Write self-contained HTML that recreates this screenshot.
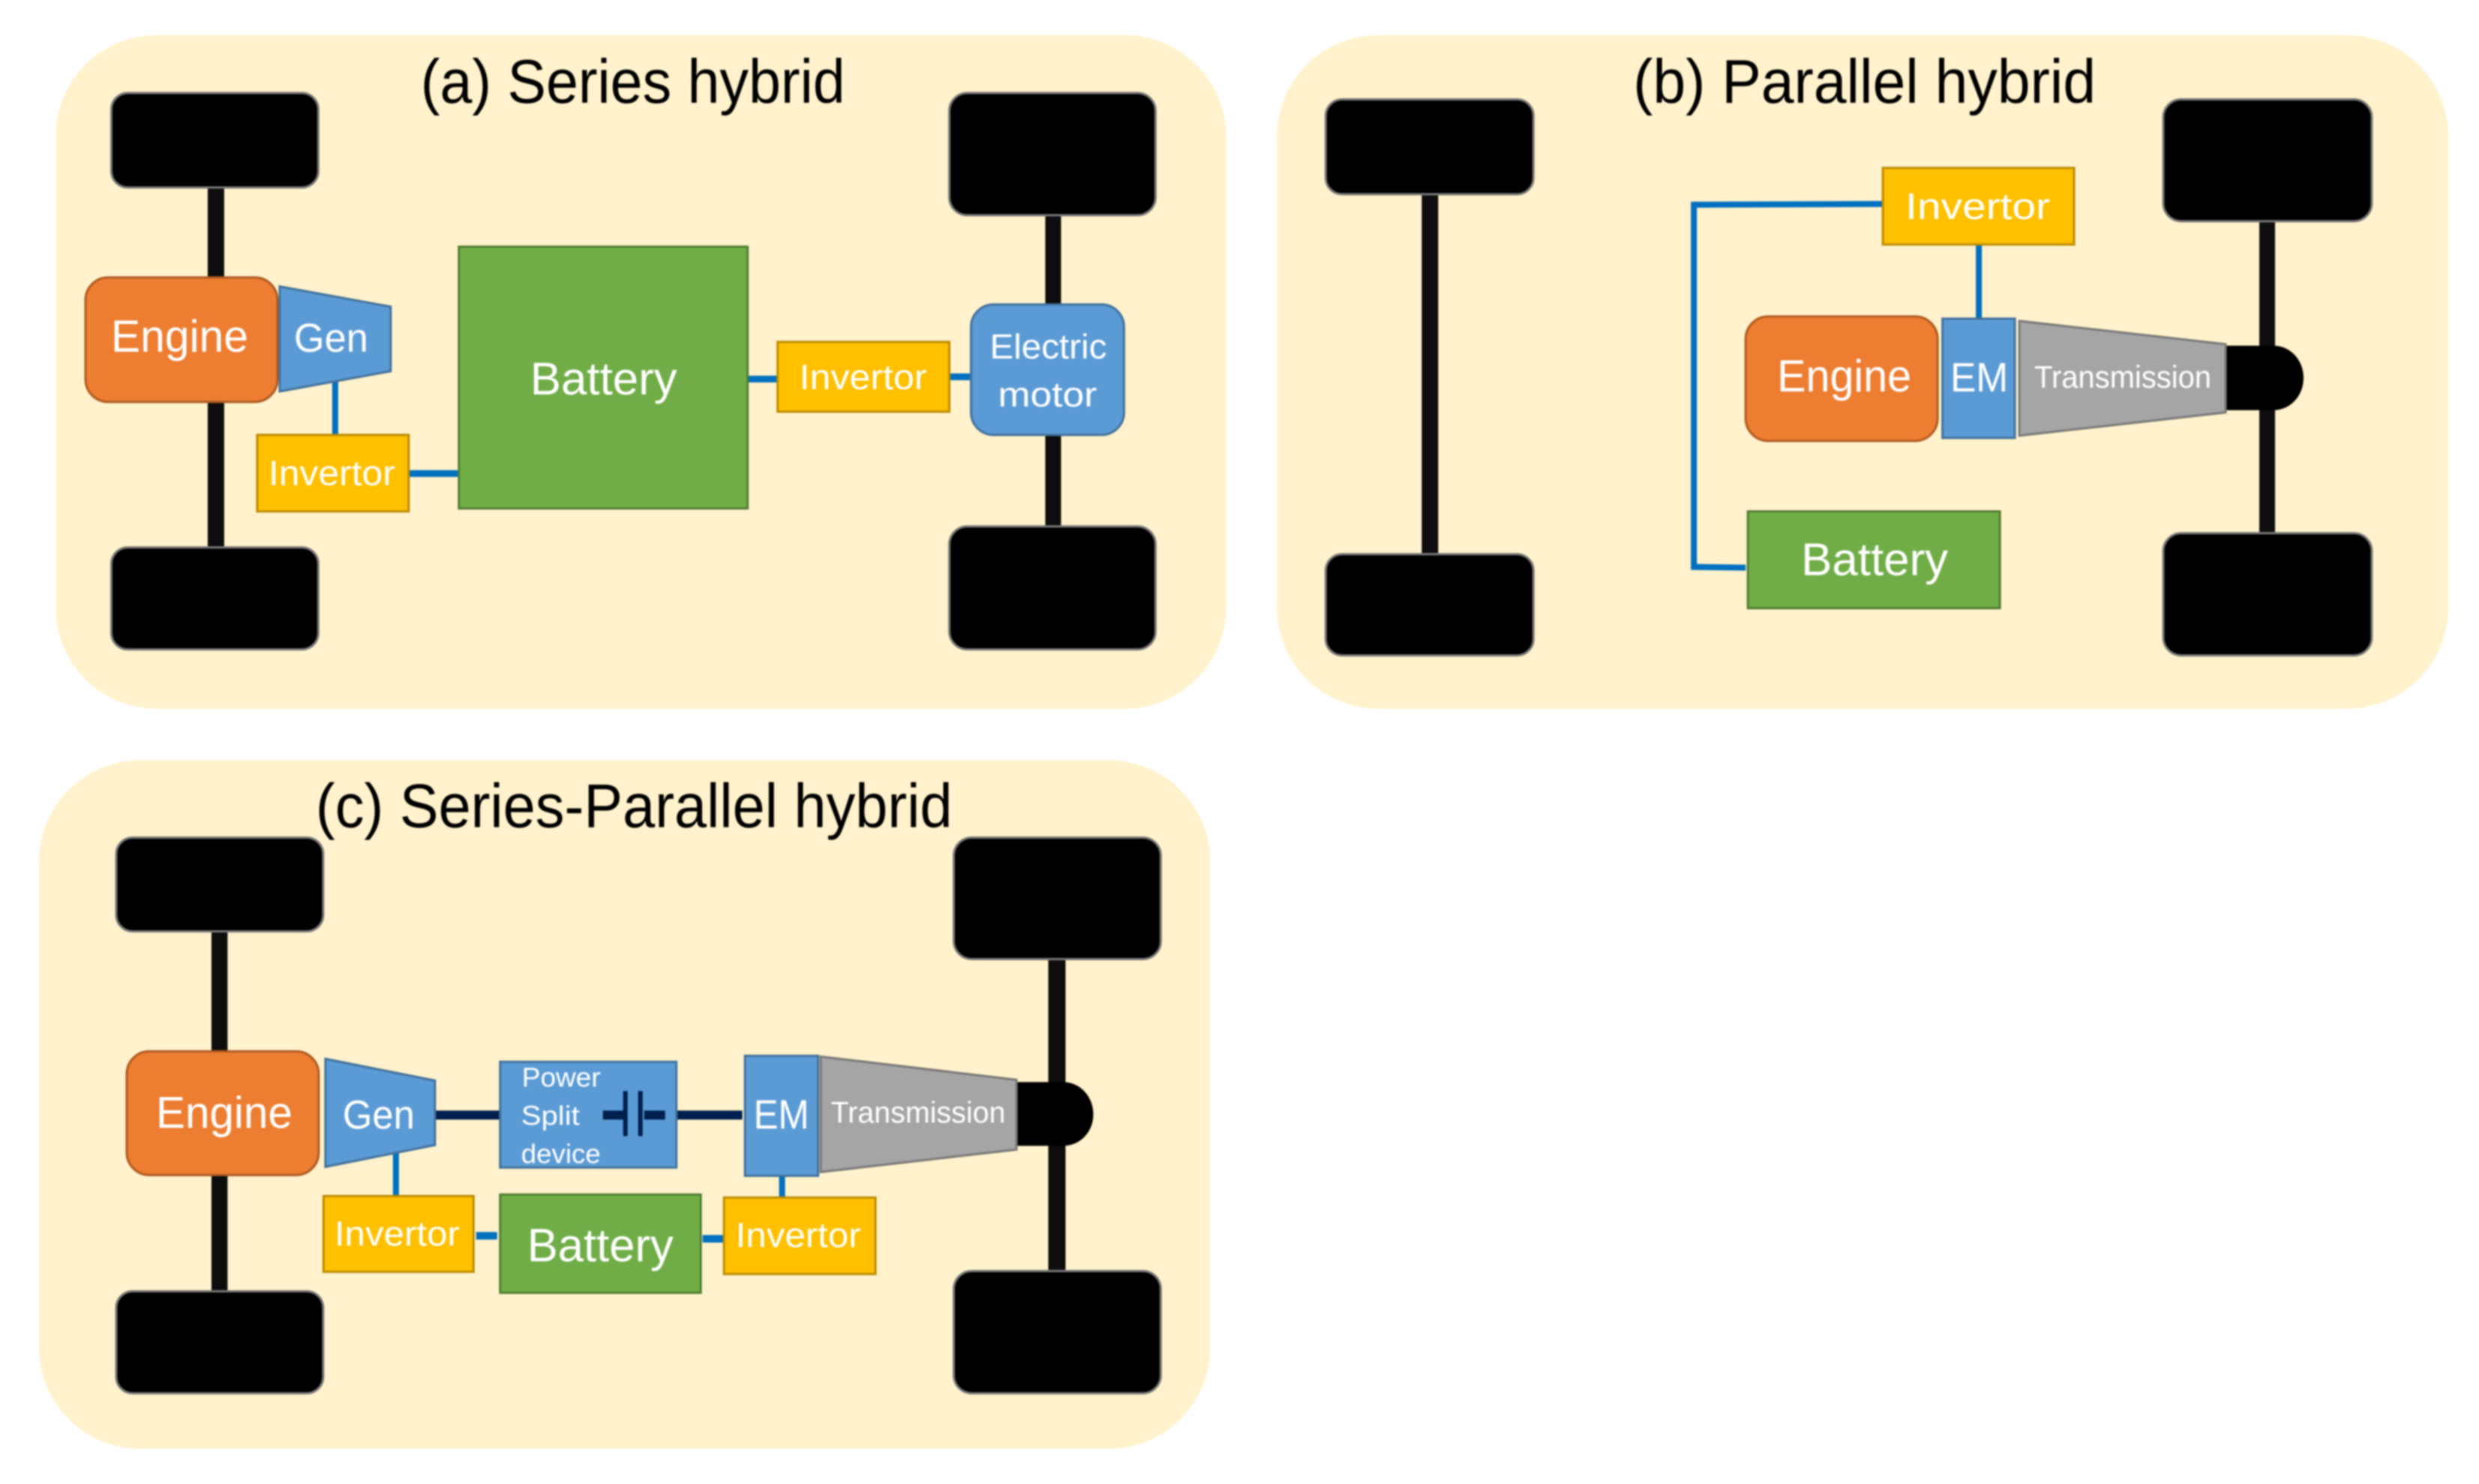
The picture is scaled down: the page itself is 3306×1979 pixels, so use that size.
<!DOCTYPE html>
<html><head><meta charset="utf-8"><style>
html,body{margin:0;padding:0;background:#fff}
svg{display:block;filter:blur(1px)}
text{font-family:"Liberation Sans",sans-serif;fill:#fff}
.t{fill:#000;font-size:83px}
.w{fill:#000;stroke:#777;stroke-width:3}
.p{fill:#FFF2CC}
.ax{fill:#0D0D0D}
.or{fill:#ED7D31;stroke:#AE5A21;stroke-width:3}
.bl{fill:#5B9BD5;stroke:#41719C;stroke-width:3}
.ye{fill:#FFC000;stroke:#BC8C00;stroke-width:3}
.gr{fill:#70AD47;stroke:#507E32;stroke-width:3}
.tr{fill:#A5A5A5;stroke:#787878;stroke-width:3}
.ln{fill:#0070C0}
.dk{fill:#001F4E}
</style></head><body>
<svg xmlns="http://www.w3.org/2000/svg" width="3306" height="1979" viewBox="0 0 3306 1979">
<rect width="3306" height="1979" fill="#fff"/>

<!-- Panel a -->
<rect class="p" x="74" y="47" width="1561" height="898" rx="135" ry="135"/>
<text class="t" x="561" y="137" textLength="566" lengthAdjust="spacingAndGlyphs">(a) Series hybrid</text>
<rect class="ax" x="277" y="250" width="22" height="480"/>
<rect class="ax" x="1394" y="287" width="21" height="415"/>
<rect class="w" x="148.5" y="124" width="276" height="126" rx="22"/>
<rect class="w" x="1266" y="124" width="275" height="163" rx="24"/>
<rect class="w" x="148.5" y="730" width="276" height="136" rx="22"/>
<rect class="w" x="1266" y="702" width="275" height="164" rx="24"/>
<rect class="ln" x="443" y="506" width="8" height="74"/>
<rect class="ln" x="545" y="627" width="67" height="9"/>
<rect class="ln" x="997" y="501" width="40" height="9"/>
<rect class="ln" x="1266" y="498" width="29" height="9"/>
<rect class="or" x="114" y="370" width="256" height="166" rx="30"/>
<polygon class="bl" points="373,382 521,409 521,495 373,522"/>
<rect class="ye" x="343" y="580" width="202" height="102"/>
<rect class="gr" x="612" y="329" width="385" height="349"/>
<rect class="ye" x="1037" y="456" width="229" height="93"/>
<rect class="bl" x="1295" y="406" width="204" height="174" rx="30"/>
<text x="148" y="469" font-size="60" textLength="183" lengthAdjust="spacingAndGlyphs">Engine</text>
<text x="392" y="469" font-size="54" textLength="99" lengthAdjust="spacingAndGlyphs">Gen</text>
<text x="707" y="526" font-size="61" textLength="196" lengthAdjust="spacingAndGlyphs">Battery</text>
<text x="358" y="647" font-size="47" textLength="169" lengthAdjust="spacingAndGlyphs">Invertor</text>
<text x="1066" y="519" font-size="47" textLength="170" lengthAdjust="spacingAndGlyphs">Invertor</text>
<text x="1320" y="478" font-size="46" textLength="156" lengthAdjust="spacingAndGlyphs">Electric</text>
<text x="1331" y="542" font-size="46" textLength="132" lengthAdjust="spacingAndGlyphs">motor</text>

<!-- Panel b -->
<rect class="p" x="1703" y="47" width="1562" height="898" rx="135" ry="135"/>
<text class="t" x="2178" y="137" textLength="617" lengthAdjust="spacingAndGlyphs">(b) Parallel hybrid</text>
<rect class="ax" x="1896" y="259" width="22" height="480"/>
<rect class="ax" x="3013" y="295" width="21" height="416"/>
<rect class="w" x="1768" y="132.5" width="277" height="126.5" rx="22"/>
<rect class="w" x="2885" y="132.5" width="278" height="162.5" rx="24"/>
<rect class="w" x="1768" y="739" width="277" height="135" rx="22"/>
<rect class="w" x="2885" y="711" width="278" height="163" rx="24"/>
<polyline points="2511,272 2259,273 2259,756 2328,757" fill="none" stroke="#0070C0" stroke-width="8"/>
<rect class="ln" x="2635" y="326" width="8" height="99"/>
<path d="M2968 461H3032C3054 461 3072 480 3072 504S3054 547 3032 547H2968Z" fill="#000"/>
<rect class="or" x="2328" y="422" width="256" height="166" rx="30"/>
<rect class="bl" x="2590.5" y="425" width="96.5" height="159"/>
<polygon class="tr" points="2693,428 2968,459 2968,550 2693,581"/>
<rect class="ye" x="2511" y="224" width="255" height="102"/>
<rect class="gr" x="2331" y="682" width="336" height="129"/>
<text x="2541" y="292" font-size="49" textLength="193" lengthAdjust="spacingAndGlyphs">Invertor</text>
<text x="2370" y="522" font-size="60" textLength="179" lengthAdjust="spacingAndGlyphs">Engine</text>
<text x="2601" y="522" font-size="55" textLength="77" lengthAdjust="spacingAndGlyphs">EM</text>
<text x="2713" y="517" font-size="42" textLength="236" lengthAdjust="spacingAndGlyphs">Transmission</text>
<text x="2402" y="767" font-size="61" textLength="196" lengthAdjust="spacingAndGlyphs">Battery</text>

<!-- Panel c -->
<rect class="p" x="52" y="1014" width="1562" height="918" rx="135" ry="135"/>
<text class="t" x="421" y="1103" textLength="849" lengthAdjust="spacingAndGlyphs">(c) Series-Parallel hybrid</text>
<rect class="ax" x="282" y="1242" width="21.5" height="480"/>
<rect class="ax" x="1398" y="1279" width="23" height="416"/>
<rect class="w" x="155" y="1117" width="276" height="125" rx="22"/>
<rect class="w" x="1272" y="1117" width="276" height="162" rx="24"/>
<rect class="w" x="155" y="1722" width="276" height="136" rx="22"/>
<rect class="w" x="1272" y="1695" width="276" height="163" rx="24"/>
<rect class="ln" x="524" y="1527" width="8" height="68"/>
<rect class="ln" x="1039" y="1568" width="8" height="29"/>
<rect class="ln" x="635" y="1643" width="28" height="10"/>
<rect class="ln" x="937" y="1647" width="27" height="10"/>
<rect class="dk" x="580" y="1481" width="88" height="12"/>
<rect class="dk" x="902" y="1481" width="88" height="12"/>
<path d="M1355.5 1443H1418C1440 1443 1458 1462 1458 1486S1440 1528 1418 1528H1355.5Z" fill="#000"/>
<rect class="or" x="169" y="1402" width="256" height="165" rx="30"/>
<polygon class="bl" points="434,1412 580,1441 580,1527 434,1556"/>
<rect class="bl" x="667" y="1416" width="235" height="141"/>
<rect class="dk" x="804" y="1481" width="28" height="12"/>
<rect class="dk" x="831" y="1455" width="6" height="60"/>
<rect class="dk" x="851" y="1455" width="6" height="60"/>
<rect class="dk" x="859" y="1481" width="28" height="12"/>
<rect class="bl" x="993.5" y="1408" width="97.5" height="160"/>
<polygon class="tr" points="1094.5,1409 1355.5,1440 1355.5,1533 1094.5,1563"/>
<rect class="ye" x="431.5" y="1595" width="200" height="101"/>
<rect class="gr" x="667" y="1593" width="267.5" height="131"/>
<rect class="ye" x="965.5" y="1597" width="202" height="102"/>
<text x="208" y="1504" font-size="59" textLength="182" lengthAdjust="spacingAndGlyphs">Engine</text>
<text x="457" y="1505" font-size="54" textLength="96" lengthAdjust="spacingAndGlyphs">Gen</text>
<text x="696" y="1449" font-size="36" textLength="105" lengthAdjust="spacingAndGlyphs">Power</text>
<text x="695" y="1500" font-size="36" textLength="78" lengthAdjust="spacingAndGlyphs">Split</text>
<text x="695" y="1551" font-size="36" textLength="106" lengthAdjust="spacingAndGlyphs">device</text>
<text x="1005" y="1505" font-size="55" textLength="74" lengthAdjust="spacingAndGlyphs">EM</text>
<text x="1108" y="1497" font-size="40" textLength="233" lengthAdjust="spacingAndGlyphs">Transmission</text>
<text x="446" y="1661" font-size="46" textLength="167" lengthAdjust="spacingAndGlyphs">Invertor</text>
<text x="703" y="1682" font-size="62" textLength="195" lengthAdjust="spacingAndGlyphs">Battery</text>
<text x="981" y="1663" font-size="46" textLength="167" lengthAdjust="spacingAndGlyphs">Invertor</text>
</svg>
</body></html>
